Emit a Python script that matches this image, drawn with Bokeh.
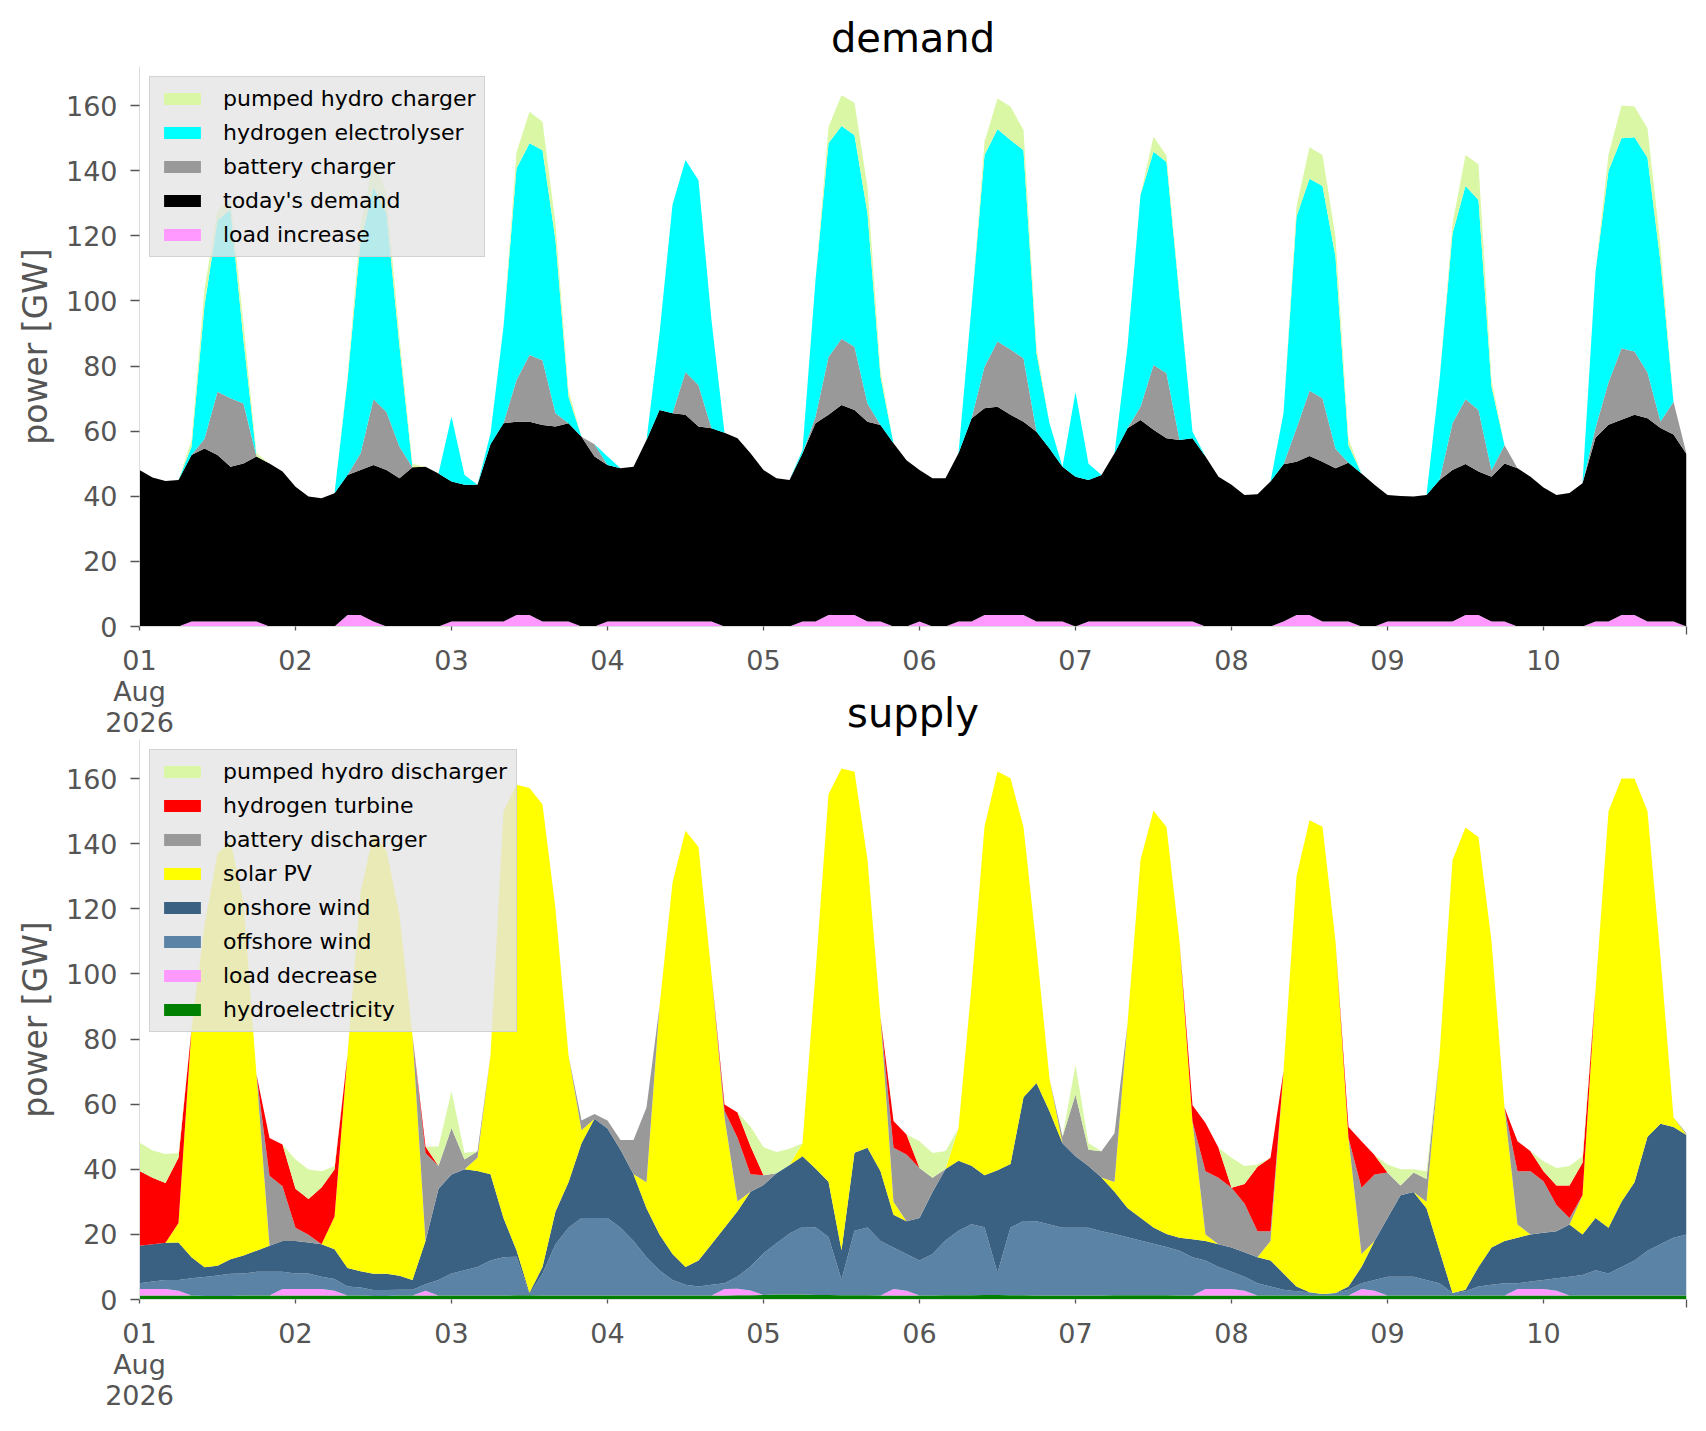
import pandas as pd
from bokeh.plotting import figure
from bokeh.layouts import column
from bokeh.models import ColumnDataSource, Range1d, FixedTicker
from bokeh.embed import file_html
from bokeh.resources import INLINE

# 2-hourly samples, 1 Aug 2026 00:00 .. 10 Aug 2026 22:00 (one row per day below)
time = pd.date_range("2026-08-01 00:00", periods=120, freq="2h")

day_ticks = pd.date_range("2026-08-01", periods=10, freq="D")
day_labels = ["01\nAug\n2026", "02", "03", "04", "05", "06", "07", "08", "09", "10"]
y_ticks = [0, 20, 40, 60, 80, 100, 120, 140, 160]

# ---------------- demand side (GW) ----------------
load_increase = [
    0, 0, 0, 0, 1.5, 1.5, 1.5, 1.5, 1.5, 1.5, 0, 0,
    0, 0, 0, 0, 3.5, 3.5, 1.5, 0, 0, 0, 0, 0,
    1.5, 1.5, 1.5, 1.5, 1.5, 3.5, 3.5, 1.5, 1.5, 1.5, 0, 0,
    1.5, 1.5, 1.5, 1.5, 1.5, 1.5, 1.5, 1.5, 1.5, 0, 0, 0,
    0, 0, 0, 1.5, 1.5, 3.5, 3.5, 3.5, 1.5, 1.5, 0, 0,
    1.5, 0, 0, 1.5, 1.5, 3.5, 3.5, 3.5, 3.5, 1.5, 1.5, 1.5,
    0, 1.5, 1.5, 1.5, 1.5, 1.5, 1.5, 1.5, 1.5, 1.5, 0, 0,
    0, 0, 0, 0, 1.5, 3.5, 3.5, 1.5, 1.5, 1.5, 0, 0,
    1.5, 1.5, 1.5, 1.5, 1.5, 1.5, 3.5, 3.5, 1.5, 1.5, 0, 0,
    0, 0, 0, 0, 1.5, 1.5, 3.5, 3.5, 1.5, 1.5, 1.5, 0]
todays_demand = [
    48.1, 45.8, 44.7, 45.0, 51.2, 53.2, 51.2, 47.6, 48.6, 50.7, 50.1, 47.6,
    42.9, 39.9, 39.4, 40.9, 43.0, 44.6, 48.1, 48.1, 45.5, 48.9, 49.1, 47.0,
    43.0, 42.0, 42.0, 54.5, 60.9, 59.4, 59.4, 60.4, 59.9, 60.9, 58.3, 52.2,
    48.1, 47.1, 47.6, 55.8, 65.0, 64.0, 63.5, 59.9, 59.4, 59.5, 57.8, 53.2,
    48.1, 45.5, 45.0, 51.7, 60.9, 61.5, 64.5, 63.0, 61.4, 60.4, 56.3, 51.1,
    46.6, 45.5, 45.5, 51.7, 62.4, 63.5, 64.0, 61.5, 59.4, 58.3, 53.2, 47.6,
    46.0, 43.5, 45.0, 51.7, 59.4, 61.9, 58.9, 56.3, 55.8, 56.3, 52.2, 46.0,
    43.5, 40.4, 40.6, 44.5, 48.3, 47.1, 48.9, 49.1, 47.1, 48.8, 47.0, 43.5,
    38.9, 38.6, 38.4, 38.9, 43.5, 46.6, 46.4, 44.1, 44.5, 48.6, 48.6, 46.0,
    42.7, 40.4, 41.0, 44.0, 56.5, 60.5, 60.0, 61.5, 62.5, 59.5, 57.5, 53.0]
battery_charger = [
    0, 0, 0, 0, 0, 3, 19.4, 21, 18.4, 0, 0, 0,
    0, 0, 0, 0, 0, 5, 20.2, 17.8, 9.7, 0, 0, 0,
    0, 0, 0, 0, 0, 12.8, 20.5, 19.9, 4.1, 0, 0, 3.8,
    0, 0, 0, 0, 0, 0, 13.2, 12.7, 0, 0, 0, 0,
    0, 0, 0, 0, 2, 17.8, 20.4, 19.4, 5.6, 0, 0, 0,
    0, 0, 0, 0, 0, 12.8, 20, 20.1, 19.5, 0, 0, 0,
    0, 0, 0, 0, 0, 4.1, 19.9, 20, 0, 0, 0, 0,
    0, 0, 0, 0, 0, 10.3, 20, 19.5, 6, 0, 0, 0,
    0, 0, 0, 0, 0, 14.3, 19.9, 18.9, 2, 5.6, 0, 0,
    0, 0, 0, 0, 3, 13, 22, 19.5, 14, 2, 10, 0]
electrolyser = [
    0, 0, 0, 0, 2.5, 40.9, 52.7, 58, 19.5, 0, 0, 0,
    0, 0, 0, 0, 29.2, 65, 65.2, 61, 30.8, 0, 0, 0,
    20, 3, 0, 3.3, 29.7, 65, 65, 64.5, 53.2, 8.2, 0, 0,
    2.6, 0, 0, 0, 23.5, 64, 65.1, 63, 33.2, 0, 0, 0,
    0, 0, 0, 1, 42, 65.6, 65.3, 65, 58.4, 14.8, 0, 0,
    0, 0, 0, 0, 34.3, 65, 65.2, 64.3, 63.9, 24.1, 7.7, 0,
    26, 5, 0, 0, 25.1, 65, 65.5, 64.9, 44, 2, 0, 0,
    0, 0, 0, 0, 15.7, 65, 65.1, 65.2, 59, 5.4, 0, 0,
    0, 0, 0, 0, 30.7, 58.3, 65.5, 64.5, 25.7, 0, 0, 0,
    0, 0, 0, 0, 48, 65, 64.5, 65.8, 66, 49, 0, 0]
pumped_charger = [
    0, 0, 0, 0, 2, 5, 3, 3, 5, 1, 0, 0,
    0, 0, 0, 0, 1, 5, 8.8, 6, 3, 1, 0, 0,
    0, 0, 0, 0, 0, 5, 9.7, 8.7, 5, 2, 0, 0,
    0, 0, 0, 0, 0, 0, 0, 0, 0, 0, 0, 0,
    0, 0, 0, 0, 0, 5, 9.5, 10, 8, 2, 0, 0,
    0, 0, 0, 0, 0, 4, 9.5, 10.3, 6.2, 2, 0, 0,
    0, 0, 0, 0, 0, 0, 4.6, 2, 1, 0, 0, 0,
    0, 0, 0, 0, 0, 3, 9.7, 9.5, 6, 2, 0, 0,
    0, 0, 0, 0, 0, 3, 9.5, 11, 2, 0, 0, 0,
    0, 0, 0, 0, 0, 5, 10, 9.4, 9, 5, 0, 0]

# ---------------- supply side (GW) ----------------
hydroelectricity = [
    1.2, 1.2, 1.2, 1.2, 1.2, 1.1, 1.1, 1.1, 1.2, 1.2, 1.2, 1.2,
    1.2, 1.2, 1.2, 1.2, 1.2, 1.2, 1.1, 1.1, 1.2, 1.2, 1.2, 1.2,
    1.2, 1.2, 1.2, 1.2, 1.2, 1.3, 1.3, 1.2, 1.2, 1.2, 1.2, 1.2,
    1.2, 1.2, 1.2, 1.2, 1.2, 1.2, 1.2, 1.2, 1.2, 1.2, 1.3, 1.3,
    1.4, 1.5, 1.5, 1.5, 1.4, 1.4, 1.3, 1.3, 1.3, 1.2, 1.2, 1.2,
    1.2, 1.2, 1.3, 1.3, 1.3, 1.4, 1.4, 1.3, 1.3, 1.2, 1.2, 1.2,
    1.2, 1.2, 1.2, 1.3, 1.3, 1.3, 1.3, 1.3, 1.2, 1.2, 1.2, 1.2,
    1.2, 1.2, 1.2, 1.2, 1.2, 1.2, 1.2, 1.2, 1.2, 1.2, 1.2, 1.2,
    1.2, 1.2, 1.2, 1.2, 1.2, 1.2, 1.2, 1.2, 1.2, 1.2, 1.2, 1.2,
    1.2, 1.2, 1.2, 1.2, 1.2, 1.2, 1.2, 1.2, 1.2, 1.2, 1.2, 1.2]
load_decrease = [
    2, 2, 2, 1.5, 0, 0, 0, 0, 0, 0, 0, 2,
    2, 2, 2, 1.5, 0, 0, 0, 0, 0, 0, 1.5, 0,
    0, 0, 0, 0, 0, 0, 0, 0, 0, 0, 0, 0,
    0, 0, 0, 0, 0, 0, 0, 0, 0, 2, 2, 1.5,
    0, 0, 0, 0, 0, 0, 0, 0, 0, 0, 2, 1.5,
    0, 0, 0, 0, 0, 0, 0, 0, 0, 0, 0, 0,
    0, 0, 0, 0, 0, 0, 0, 0, 0, 0, 2, 2,
    2, 1.5, 0, 0, 0, 0, 0, 0, 0, 0, 2, 1.5,
    0, 0, 0, 0, 0, 0, 0, 0, 0, 0, 2, 2,
    2, 1.5, 0, 0, 0, 0, 0, 0, 0, 0, 0, 0]
offshore_wind = [
    1.8, 2.3, 2.8, 3.3, 5.3, 5.8, 6.3, 6.8, 6.8, 7.3, 7.3, 5.3,
    4.8, 4.8, 3.8, 3.6, 2.8, 2.5, 1.8, 1.8, 1.8, 1.8, 2.0, 4.8,
    6.8, 7.8, 8.8, 10.8, 11.8, 11.8, 0.3, 6.8, 15.8, 20.8, 23.8, 23.8,
    23.8, 20.8, 16.8, 11.8, 7.8, 4.8, 3.3, 2.8, 3.3, 1.8, 3.8, 7.3,
    12.8, 15.8, 18.8, 20.8, 20.8, 17.8, 4.8, 19.8, 20.8, 16.8, 12.8, 11.3,
    10.8, 12.8, 16.8, 19.8, 21.8, 20.8, 6.8, 20.8, 22.8, 22.8, 21.8, 20.8,
    20.8, 20.8, 19.8, 18.8, 17.8, 16.8, 15.8, 14.8, 13.8, 11.8, 8.8, 6.8,
    5.3, 4.3, 3.8, 2.8, 1.8, 1.3, 1.0, 0.5, 0.8, 1.8, 1.8, 3.3,
    5.8, 5.8, 5.8, 4.8, 3.8, 0.8, 1.3, 2.8, 3.3, 3.8, 1.8, 2.3,
    2.8, 3.8, 5.8, 6.3, 7.8, 6.8, 8.8, 10.8, 13.8, 15.8, 17.8, 18.8]
onshore_wind = [
    11.5, 11.5, 11.4, 11.5, 6.5, 3, 3, 4.5, 5.5, 6.5, 8, 9.5,
    10, 9.5, 10, 9.1, 5.7, 5, 5, 5, 4.3, 3, 13.3, 28,
    30.4, 31, 29.5, 26.5, 12, 2, 0.5, 2, 10, 14, 23, 30.5,
    27.5, 24, 20.5, 15, 11, 8, 5.5, 8, 12.5, 17, 20, 23,
    21, 21.5, 21, 21.7, 18, 17, 9, 24, 24.5, 21.4, 10, 10,
    13, 19, 22, 21.5, 18, 16, 31.5, 19.5, 38, 42.5, 34.8, 26,
    22, 19, 16.5, 13, 9, 7, 5, 4, 4, 5.5, 6, 7,
    7.5, 7.5, 8, 8, 5, 1.5, 0, 0, 0, 1, 5, 12,
    18, 25, 26, 22, 10, 0, 0.5, 6, 11.5, 13, 14, 14.5,
    14.5, 14.5, 16, 12.5, 16, 14, 20, 24, 35, 37, 34, 30.5]
solar_pv = [
    0, 0, 0, 6, 70, 105, 126.5, 128.5, 108.5, 54, 0, 0,
    0, 0, 0, 10, 65.3, 116.3, 135, 130, 110.7, 75, 0, 0,
    0, 0, 4, 36.5, 125, 143, 155, 142, 93, 39, 4, 0,
    0, 0, 0, 8, 70, 114, 134, 127, 83, 34, 3, 0,
    0, 0, 0, 4, 60, 119, 148, 117, 88.5, 47.3, 4, 0,
    0, 0, 0, 10, 55, 107, 122.5, 118.5, 83, 41.5, 10, 0,
    0, 0, 0, 3, 56.6, 110, 128, 125, 91, 36.2, 2, 0,
    0, 0, 0, 6, 62, 126, 145, 143.5, 108, 45.6, 4, 0,
    0, 0, 0, 2, 60, 133, 142, 132, 94, 41, 4, 0,
    0, 0, 0, 12, 70, 128, 130, 124, 100, 51, 3, 0]
battery_discharger = [
    0, 0, 0, 0, 0, 0, 0, 0, 0, 0, 21.5, 16.8,
    4, 2.4, 0, 0, 0, 0, 0, 0, 0, 0, 27, 7,
    14.3, 3, 2, 0, 0, 0, 0, 0, 0, 0, 3, 1.5,
    2.5, 3, 10.5, 23, 0, 0, 0, 0, 0, 2, 19.6, 5.4,
    3, 0, 0, 0, 0, 0, 0, 0, 0, 0, 16.6, 20.5,
    15.4, 4.4, 0, 0, 0, 0, 0, 0, 0, 0, 0, 2,
    19, 5, 8, 15, 0, 0, 0, 0, 0, 0, 19.4, 20.4,
    18.3, 15, 8, 3, 0, 0, 0, 0, 0, 0, 20.3, 20.4,
    14, 3, 6, 7, 0, 0, 0, 0, 0, 0, 16.4, 19.4,
    15.8, 8, 2, 0, 0, 0, 0, 0, 0, 0, 0, 0.5]
hydrogen_turbine = [
    23, 20.4, 18.4, 20, 0, 0, 0, 0, 0, 0, 11.6, 12.8,
    12, 11, 17.4, 14.5, 0, 0, 0, 0, 0, 0, 2, 0,
    0, 0, 0, 0, 0, 0, 0, 0, 0, 0, 0, 0,
    0, 0, 0, 0, 0, 0, 0, 0, 0, 1.9, 7.7, 8.6,
    0, 0, 0, 0, 0, 0, 0, 0, 0, 0, 8.2, 6.2,
    0, 0, 0, 0, 0, 0, 0, 0, 0, 0, 0, 0,
    0, 0, 0, 0, 0, 0, 0, 0, 0, 5, 14.8, 9.2,
    0, 6, 19.8, 22.5, 0, 0, 0, 0, 0, 3.4, 14.3, 6,
    0, 0, 0, 0, 0, 0, 0, 0, 0, 0, 9.2, 6.1,
    3.1, 6, 10, 10, 0, 0, 0, 0, 0, 0, 0, 0]
pumped_discharger = [
    8.7, 8.4, 8.9, 1.5, 0, 0, 0, 0, 0, 0, 0, 0,
    9, 9, 5, 1, 0, 0, 0, 0, 0, 0, 0, 6,
    11.3, 2, 0, 0, 0, 0, 0, 0, 0, 0, 0, 0,
    0, 0, 0, 0, 0, 0, 0, 0, 0, 0, 0, 6,
    8.6, 6.5, 5, 0, 0, 0, 0, 0, 0, 0, 0, 0,
    8.2, 7.6, 5.5, 0, 0, 0, 0, 0, 0, 0, 0, 0,
    9, 2, 0, 0, 0, 0, 0, 0, 0, 0, 0, 0,
    9.2, 5.5, 0.7, 0, 0, 0, 0, 0, 0, 0, 0, 0,
    2.5, 5, 1, 2.4, 0, 0, 0, 0, 0, 0, 0, 0,
    3.1, 5.4, 6, 2, 0, 0, 0, 0, 0, 0, 0, 0]

FONT = "DejaVu Sans"
tick_ms = [t.timestamp() * 1000 for t in day_ticks]
x_start = time[0].timestamp() * 1000
x_end = time[-1].timestamp() * 1000


def make_figure(title, stackers, colors, labels, data, top):
    p = figure(frame_width=1547, frame_height=560, x_axis_type="datetime",
               x_range=Range1d(x_start, x_end), y_range=Range1d(0, 172),
               output_backend="svg", toolbar_location=None,
               min_border_left=139, min_border_right=4,
               min_border_top=top, min_border_bottom=113)
    src = ColumnDataSource(dict(time=time, **data))
    p.varea_stack(stackers=stackers, x="time", color=colors,
                  legend_label=labels, source=src)

    if title:
        p.title.text = title
        p.title.align = "center"
        p.title.text_font = FONT
        p.title.text_font_size = "40px"
        p.title.text_font_style = "normal"
        p.title.text_color = "black"
        p.title.standoff = 11

    p.background_fill_color = "white"
    p.border_fill_color = "white"
    p.outline_line_color = None
    p.grid.visible = False

    # day ticks carry the labels; a longer unlabelled tick closes the axis
    p.xaxis.ticker = FixedTicker(ticks=tick_ms, minor_ticks=[x_end])
    p.xaxis.major_label_overrides = dict(zip(tick_ms, day_labels))
    p.yaxis.ticker = FixedTicker(ticks=y_ticks)
    for ax in (p.xaxis[0], p.yaxis[0]):
        ax.axis_line_color = "#dddddd"
        ax.major_tick_line_color = "#555555"
        ax.major_tick_line_width = 1.3
        ax.major_tick_in = 0
        ax.major_label_text_color = "#555555"
        ax.major_label_text_font = FONT
        ax.major_label_text_font_size = "27px"
    p.yaxis.minor_tick_line_color = None
    p.xaxis.minor_tick_line_color = "#555555"
    p.xaxis.minor_tick_line_width = 1.3
    p.xaxis.minor_tick_in = 0
    p.xaxis.minor_tick_out = 8
    p.xaxis.major_tick_out = 4
    p.xaxis.major_label_standoff = 10
    p.xaxis.major_label_text_line_height = 1.0
    p.yaxis.major_tick_out = 9
    p.yaxis.major_label_standoff = 13
    p.yaxis.axis_label = "power [GW]"
    p.yaxis.axis_label_text_font = FONT
    p.yaxis.axis_label_text_font_size = "33px"
    p.yaxis.axis_label_text_font_style = "normal"
    p.yaxis.axis_label_text_color = "#555555"
    p.yaxis.axis_label_standoff = 8

    leg = p.legend[0]
    leg.items = list(reversed(leg.items))
    leg.location = "top_left"
    leg.margin = 10
    leg.padding = 9
    leg.spacing = 9
    leg.glyph_width = 46
    leg.glyph_height = 15
    leg.label_standoff = 18
    leg.label_text_font = FONT
    leg.label_text_font_size = "22px"
    leg.label_text_color = "black"
    leg.background_fill_color = "#e5e5e5"
    leg.background_fill_alpha = 0.8
    leg.border_line_color = "#cccccc"
    leg.border_line_alpha = 0.8
    return p


demand = make_figure(
    "demand",
    ["load_increase", "todays_demand", "battery_charger", "electrolyser", "pumped_charger"],
    ["#ff99ff", "black", "#999999", "#00ffff", "#daf7a6"],
    ["load increase", "today's demand", "battery charger",
     "hydrogen electrolyser", "pumped hydro charger"],
    dict(load_increase=load_increase, todays_demand=todays_demand,
         battery_charger=battery_charger, electrolyser=electrolyser,
         pumped_charger=pumped_charger),
    top=66)

# the lower panel's title shares the band of the upper panel's date labels,
# so it is drawn as the upper panel's x-axis label, pulled up beside "Aug 2026"
demand.xaxis.axis_label = "supply"
demand.xaxis.axis_label_text_font = FONT
demand.xaxis.axis_label_text_font_size = "40px"
demand.xaxis.axis_label_text_font_style = "normal"
demand.xaxis.axis_label_text_color = "black"
demand.xaxis.axis_label_standoff = -51

supply = make_figure(
    None,
    ["hydroelectricity", "load_decrease", "offshore_wind", "onshore_wind",
     "solar_pv", "battery_discharger", "hydrogen_turbine", "pumped_discharger"],
    ["#008000", "#ff99ff", "#5b83a6", "#3b6182", "#ffff00", "#999999",
     "#ff0000", "#daf7a6"],
    ["hydroelectricity", "load decrease", "offshore wind", "onshore wind",
     "solar PV", "battery discharger", "hydrogen turbine", "pumped hydro discharger"],
    dict(hydroelectricity=hydroelectricity, load_decrease=load_decrease,
         offshore_wind=offshore_wind, onshore_wind=onshore_wind,
         solar_pv=solar_pv, battery_discharger=battery_discharger,
         hydrogen_turbine=hydrogen_turbine, pumped_discharger=pumped_discharger),
    top=0)

layout = column(demand, supply)
open("out.html", "w").write(file_html(layout, INLINE, title="demand and supply"))
